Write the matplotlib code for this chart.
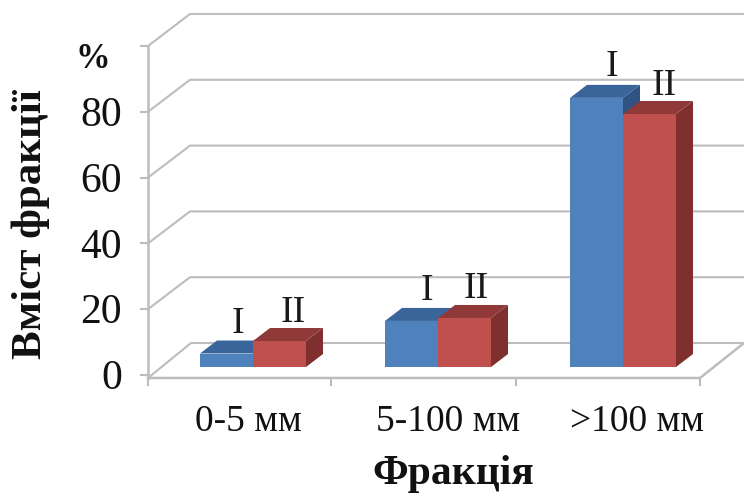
import matplotlib
matplotlib.use('Agg')
import matplotlib.pyplot as plt
from matplotlib.patches import Polygon

categorias = ['0-5 мм', '5-100 мм', '>100 мм']
serie_1 = [4.1, 14.0, 81.8]
serie_2 = [7.9, 14.9, 76.9]
etiqueta_1 = 'I'
etiqueta_2 = 'II'
ticks_y = [0, 20, 40, 60, 80]

plt.rcParams['font.family'] = ['Liberation Serif', 'DejaVu Serif']

# escala: pixeles en x, valores en y
PX = 3.29
H, W = 494, 744
Y0 = 375


def py(p):
    # pixel vertical a valor
    return (Y0 - p) / PX


fig = plt.figure(figsize=(W / 100, H / 100), dpi=100)
ax = fig.add_axes([0, 0, 1, 1])
ax.set_xlim(0, W)
ax.set_ylim(py(H), py(0))
ax.axis('off')

# paredes y rejilla
gris = '#bdbdbd'
for v in ticks_y[1:] + [100]:
    ax.plot([148, 190, W], [v, v + 32 / PX, v + 32 / PX], color=gris, lw=1.5)
ax.plot([148, 148], [py(378), 100], color=gris, lw=1.8)
ax.plot([148, 191, W], [py(378), py(343), py(343)], color=gris, lw=1.5)
ax.plot([148, 700, W], [py(378), py(378), py(343)], color=gris, lw=1.8)
for v in ticks_y + [100]:
    ax.plot([141, 148], [v, v], color=gris, lw=1.5)
for x in [148, 331, 516, 700]:
    ax.plot([x, x], [py(378), py(385)], color=gris, lw=1.5)

# barras con cara frontal, superior y lateral
base = py(367)
ancho = 53
dx, dy = 17, 13 / PX
colores = [('#4f81bd', '#3a659b', '#2f5483'), ('#c0504d', '#8f3a38', '#7f2f2d')]
inicios = [200, 385, 570]

for i, x0 in enumerate(inicios):
    for j, vals in enumerate([serie_1, serie_2]):
        x = x0 + j * ancho
        arriba = base + vals[i]
        frente, techo, lado = colores[j]
        ax.add_patch(Polygon([(x + ancho, base), (x + ancho + dx, base + dy),
                              (x + ancho + dx, arriba + dy), (x + ancho, arriba)],
                             color=lado, lw=0, zorder=3 + j))
        ax.add_patch(Polygon([(x, arriba), (x + dx, arriba + dy),
                              (x + ancho + dx, arriba + dy), (x + ancho, arriba)],
                             color=techo, lw=0, zorder=3 + j))
        ax.bar(x, vals[i], width=ancho, bottom=base, align='edge', color=frente, lw=0, zorder=3 + j)

# etiquetas I, II
pos_et = [(238, 324, 293, 313), (427, 291, 476, 289), (612, 67, 664, 86)]
for x1, y1, x2, y2 in pos_et:
    ax.text(x1, py(y1), etiqueta_1, fontsize=27, ha='center', va='center', color='#1a1a1a')
    ax.text(x2, py(y2), etiqueta_2, fontsize=27, ha='center', va='center', color='#1a1a1a')

# ejes
for v in ticks_y:
    ax.text(122, v - 1.2, str(v), fontsize=30, ha='right', va='center', color='#111111')
ax.text(93, py(60), '%', fontsize=25, ha='center', va='center', fontweight='bold', color='#111111')
ax.text(31, py(224), 'Вміст фракції', fontsize=31, rotation=90, ha='center', va='center', fontweight='bold', color='#111111')
for x, c in zip([248, 448, 637], categorias):
    ax.text(x, py(422), c, fontsize=27, ha='center', va='center', color='#111111')
ax.text(453, py(474), 'Фракція', fontsize=30, ha='center', va='center', fontweight='bold', color='#111111')

fig.savefig('out.png', dpi=100)
